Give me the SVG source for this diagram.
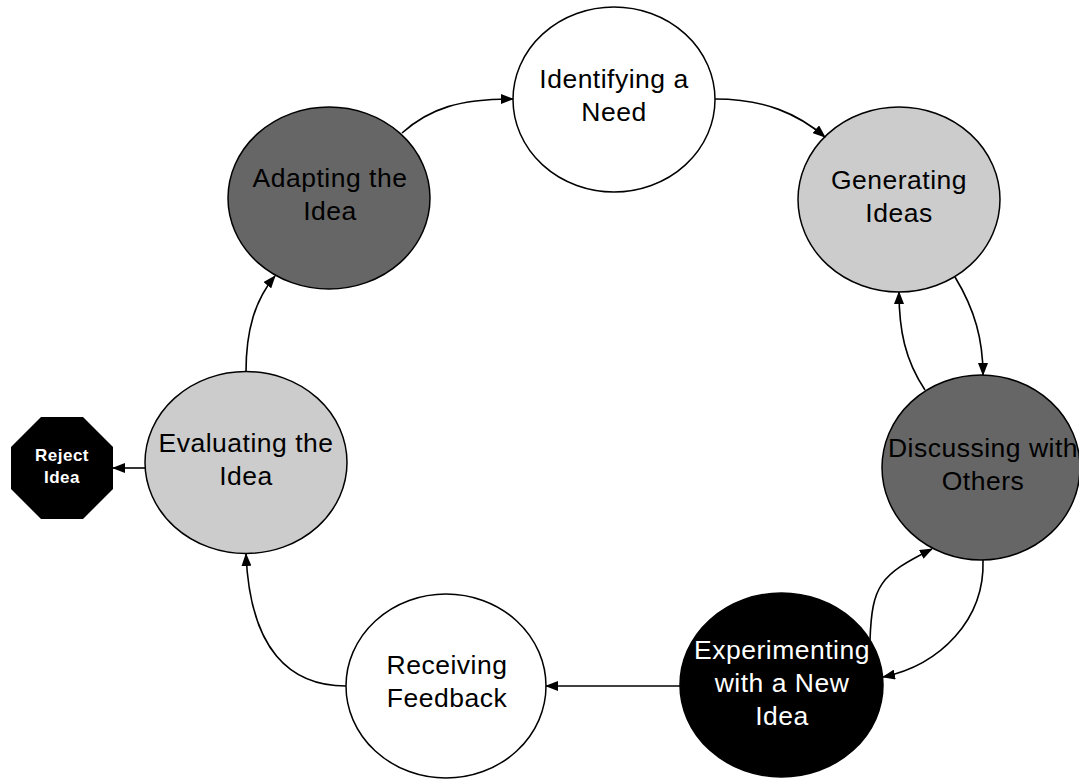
<svg xmlns="http://www.w3.org/2000/svg" width="1079" height="780" viewBox="0 0 1079 780">
  <defs>
    <marker id="arrow" viewBox="0 0 13 10" refX="12" refY="5" markerWidth="13" markerHeight="10" markerUnits="userSpaceOnUse" orient="auto">
      <path d="M0,0 L13,5 L0,10 Z" fill="#000"/>
    </marker>
  </defs>
  <style>
    .node { stroke: #000; stroke-width: 1.5; }
    .white { fill: #ffffff; }
    .light { fill: #cccccc; }
    .dark { fill: #666666; }
    .black { fill: #000000; }
    .label { font-family: "Liberation Sans", Arial, sans-serif; font-size: 26.5px; letter-spacing: 0.5px; text-anchor: middle; fill: #000; }
    .label.inv { fill: #ffffff; }
    .small { font-family: "Liberation Sans", Arial, sans-serif; font-size: 17px; font-weight: bold; letter-spacing: 0.5px; text-anchor: middle; fill: #ffffff; }
    .conn { fill: none; stroke: #000; stroke-width: 1.6; marker-end: url(#arrow); }
  </style>
  <rect width="1079" height="780" fill="#ffffff"/>

  <g id="identifying">
    <ellipse class="node white" cx="614" cy="99.5" rx="101" ry="92.5"/>
    <text class="label" x="614" y="88">Identifying a</text>
    <text class="label" x="614" y="121">Need</text>
  </g>

  <g id="generating">
    <ellipse class="node light" cx="899" cy="199.5" rx="101" ry="92.5"/>
    <text class="label" x="899" y="189">Generating</text>
    <text class="label" x="899" y="222">Ideas</text>
  </g>

  <g id="discussing">
    <ellipse class="node dark" cx="981" cy="467.5" rx="99" ry="92.5"/>
    <text class="label" x="983" y="457">Discussing with</text>
    <text class="label" x="983" y="490">Others</text>
  </g>

  <g id="experimenting">
    <ellipse class="node black" cx="781.5" cy="685" rx="101.5" ry="92"/>
    <text class="label inv" x="782" y="659">Experimenting</text>
    <text class="label inv" x="782" y="692">with a New</text>
    <text class="label inv" x="782" y="725">Idea</text>
  </g>

  <g id="receiving">
    <ellipse class="node white" cx="446" cy="686" rx="100" ry="92"/>
    <text class="label" x="447" y="674">Receiving</text>
    <text class="label" x="447" y="707">Feedback</text>
  </g>

  <g id="evaluating">
    <ellipse class="node light" cx="246" cy="462.5" rx="101" ry="91"/>
    <text class="label" x="246" y="452">Evaluating the</text>
    <text class="label" x="246" y="485">Idea</text>
  </g>

  <g id="adapting">
    <ellipse class="node dark" cx="329" cy="198" rx="101" ry="91"/>
    <text class="label" x="330" y="187">Adapting the</text>
    <text class="label" x="330" y="220">Idea</text>
  </g>

  <g id="reject">
    <polygon class="black" points="41,417 83,417 113,447 113,489 83,519 41,519 11,489 11,447"/>
    <text class="small" x="62" y="461">Reject</text>
    <text class="small" x="62" y="483">Idea</text>
  </g>

  <g id="connectors">
    <path class="conn" d="M402,133 C430,108 460,99 513,99"/>
    <path class="conn" d="M715,99 C765,99 798,114 825,137"/>
    <path class="conn" d="M955,277 C975,310 983,340 983,375"/>
    <path class="conn" d="M925,390 C905,360 899,330 899,292"/>
    <path class="conn" d="M983,560 C985,620 940,665 883,677"/>
    <path class="conn" d="M870,640 C872,585 880,575 932,549"/>
    <path class="conn" d="M680,686 L546,686"/>
    <path class="conn" d="M346,686 C290,686 250,650 246,554"/>
    <path class="conn" d="M246,372 C246,330 255,300 275,276"/>
    <path class="conn" d="M145,468 L113,468"/>
  </g>
</svg>
